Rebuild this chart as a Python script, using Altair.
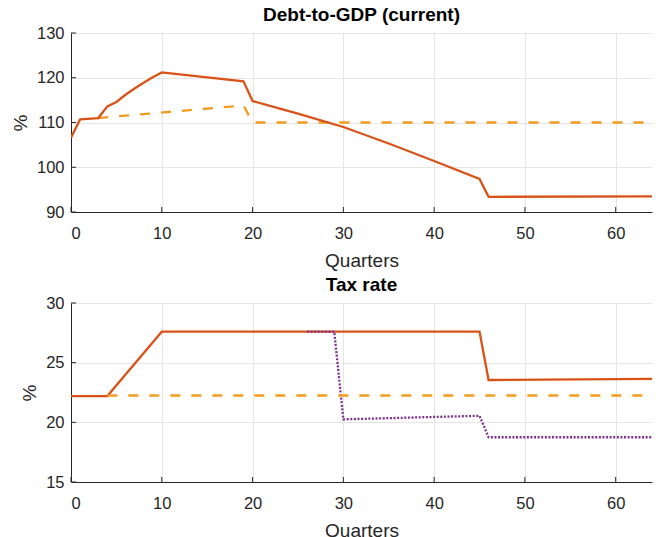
import altair as alt
import pandas as pd

# ---- Debt-to-GDP (current), percent ----
debt_base_q = [0, 1, 3, 4, 5, 6, 7, 8, 9, 10, 19, 20, 23, 25, 30, 35, 40, 45, 46, 64]
debt_base_v = [106.6, 110.7, 111.0, 113.6, 114.6, 116.2, 117.6, 118.9, 120.1, 121.2,
               119.2, 114.8, 113.1, 112.0, 109.0, 105.3, 101.4, 97.4, 93.4, 93.5]
debt_alt_q = [3, 19, 20, 64]
debt_alt_v = [111.0, 113.8, 110.0, 110.0]

# ---- Tax rate, percent ----
tax_base_q = [0, 4, 10, 45, 46, 64]
tax_base_v = [22.2, 22.2, 27.6, 27.6, 23.55, 23.65]
tax_alt_q = [4, 64]
tax_alt_v = [22.25, 22.25]
tax_third_q = [26, 29, 30, 45, 46, 64]
tax_third_v = [27.6, 27.6, 20.25, 20.55, 18.75, 18.75]

x_ticks = [0, 10, 20, 30, 40, 50, 60]
debt_ticks = [90, 100, 110, 120, 130]
tax_ticks = [15, 20, 25, 30]

RED = "#D95319"
ORANGE = "#F29B1F"
PURPLE = "#7E2F8E"
AXIS = "#262626"
FONT = "Liberation Sans"
W, H = 581, 179


def frame(q, v):
    return pd.DataFrame({"q": q, "v": v})


def panel(title, domain, yticks, series):
    xs = alt.Scale(domain=[0, 64], nice=False, zero=False)
    ys = alt.Scale(domain=domain, nice=False, zero=False)
    x_axis = alt.Axis(values=x_ticks, title="Quarters", grid=True, ticks=False,
                      labelPadding=13, titlePadding=9.5)
    y_axis = alt.Axis(values=yticks, title="%", grid=True, ticks=False,
                      labelPadding=7, titlePadding=6)
    X = lambda f: alt.X(f, scale=xs, axis=x_axis)
    Y = lambda f: alt.Y(f, scale=ys, axis=y_axis)
    layers = []
    for q, v, color, dash in series:
        kw = dict(color=color, strokeWidth=2.3, clip=True)
        if dash:
            kw["strokeDash"] = dash
        layers.append(alt.Chart(frame(q, v)).mark_line(**kw).encode(x=X("q:Q"), y=Y("v:Q")))
    # inward tick marks on the bottom and left axes
    xt = alt.Chart(pd.DataFrame({"q": x_ticks})).mark_rule(color=AXIS, strokeWidth=1).encode(
        x=X("q:Q"), y=alt.value(H), y2=alt.value(H - 5))
    yt = alt.Chart(pd.DataFrame({"v": yticks})).mark_rule(color=AXIS, strokeWidth=1).encode(
        y=Y("v:Q"), x=alt.value(0), x2=alt.value(5))
    return alt.layer(*layers, xt, yt).properties(
        width=W, height=H,
        title=alt.TitleParams(title, fontSize=19, fontWeight="bold", font=FONT,
                              color="#000000", offset=0),
    )


top = panel("Debt-to-GDP (current)", [90, 130], debt_ticks, [
    (debt_alt_q, debt_alt_v, ORANGE, [10, 11]),
    (debt_base_q, debt_base_v, RED, None),
])
bottom = panel("Tax rate", [15, 30], tax_ticks, [
    (tax_base_q, tax_base_v, RED, None),
    (tax_third_q, tax_third_v, PURPLE, [2, 1.6]),
    (tax_alt_q, tax_alt_v, ORANGE, [10, 11]),
])

chart = alt.vconcat(top, bottom, spacing=6).properties(
    padding={"left": 11, "top": 6, "right": 5, "bottom": 0},
    background="white",
).configure_view(stroke=None).configure_axis(
    domainColor=AXIS, domainWidth=1, gridColor="#E5E5E5", gridWidth=1,
    labelFont=FONT, labelFontSize=16.5, labelColor="#262626",
    titleFont=FONT, titleFontSize=19, titleFontWeight="normal", titleColor="#262626",
)

chart.save("out.html", embed_options={"renderer": "svg", "actions": False})
